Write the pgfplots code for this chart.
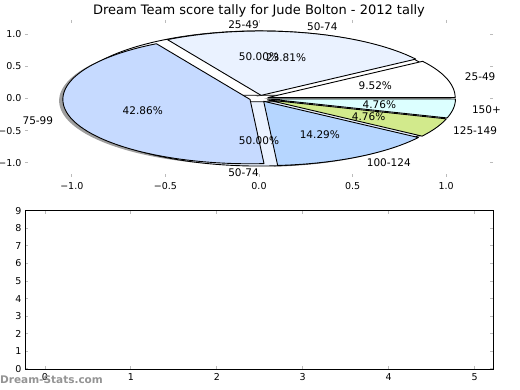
\documentclass[border=0pt]{standalone}
\usepackage{fontspec}
\setmainfont{DejaVu Sans}
\usepackage{pgfplots}
\pgfplotsset{compat=1.18}

\definecolor{cA}{HTML}{FFFFFF}   % 25-49
\definecolor{cB}{HTML}{EAF2FF}   % 50-74
\definecolor{cC}{HTML}{C6DAFF}   % 75-99
\definecolor{cD}{HTML}{B6D6FF}   % 100-124
\definecolor{cE}{HTML}{D2EA8C}   % 125-149
\definecolor{cF}{HTML}{DCFFFF}   % 150+
\definecolor{tickgray}{HTML}{BBBBBB}

% pie data: label/count/colour   (counts out of the total)
\def\pieonetotal{2}
\def\pieone{25-49/1/cA, 50-74/1/cB}
\def\pietwototal{21}
\def\pietwo{25-49/2/cA, 50-74/5/cB, 75-99/9/cC, 100-124/3/cD, 125-149/1/cE, 150+/1/cF}
\def\explode{0.05}

% mode: 0 = wedges, 1 = shadows, 2 = labels
\newcommand\drawpie[3]{%
  \xdef\cum{0}%
  \foreach \lab/\cnt/\col in #2 {%
    \pgfmathsetmacro\sa{360*\cum/#1}%
    \pgfmathsetmacro\sb{360*(\cum+\cnt)/#1}%
    \pgfmathsetmacro\sm{(\sa+\sb)/2}%
    \pgfmathsetmacro\dx{\explode*cos(\sm)}%
    \pgfmathsetmacro\dy{\explode*sin(\sm)}%
    \ifcase#3
      \edef\tmp{\noexpand\addplot[fill=\col, draw=black, line width=0.9pt, line join=round, domain=\sa:\sb, samples=90] ({\dx+cos(x)},{\dy+sin(x)}) -- (axis cs:\dx,\dy) -- cycle;}%
    \or
      \pgfmathsetmacro\sx{\dx-0.02}%
      \pgfmathsetmacro\sy{\dy-0.02}%
      \edef\tmp{\noexpand\addplot[fill=black!38, draw=none, domain=\sa:\sb, samples=90] ({\sx+cos(x)},{\sy+sin(x)}) -- (axis cs:\sx,\sy) -- cycle;}%
    \or
      \pgfmathsetmacro\lx{\dx+1.1*cos(\sm)}%
      \pgfmathsetmacro\ly{\dy+1.1*sin(\sm)}%
      \pgfmathsetmacro\px{\dx+0.6*cos(\sm)}%
      \pgfmathsetmacro\py{\dy+0.6*sin(\sm)}%
      \pgfmathsetmacro\pct{100*\cnt/#1}%
      \pgfmathparse{\lx>0 ? "west" : "east"}\let\anc\pgfmathresult
      \edef\tmp{\noexpand\node[anchor=\anc, inner sep=0pt] at (axis cs:\lx,\ly) {\lab};
        \noexpand\node[inner sep=0pt] at (axis cs:\px,\py) {\noexpand\pgfmathprintnumber[fixed,precision=2,fixed zerofill,assume math mode=true]{\pct}\noexpand\%};}%
    \fi
    \tmp
    \pgfmathsetmacro\newcum{\cum+\cnt}%
    \xdef\cum{\newcum}%
  }%
}

\begin{document}
\begin{tikzpicture}[font=\fontsize{10.5}{12}\selectfont]
\path[use as bounding box] (0,0) rectangle (520pt,390pt);

\begin{axis}[
  at={(25pt,213pt)}, anchor=south west,
  scale only axis, width=468pt, height=157pt,
  xmin=-1.25, xmax=1.25, ymin=-1.22, ymax=1.22,
  axis line style={draw=none},
  xtick={-1,-0.5,0,0.5,1}, ytick={-1,-0.5,0,0.5,1},
  xticklabels={−1.0,−0.5,0.0,0.5,1.0},
  yticklabels={−1.0,−0.5,0.0,0.5,1.0},
  tick align=inside, major tick length=3pt,
  tick style={tickgray, line width=1pt},
  tick label style={font=\fontsize{9.5}{11}\selectfont},
  xticklabel style={yshift=-2pt},
  clip=false,
]
\drawpie{\pietwototal}{\pietwo}{1}
\drawpie{\pieonetotal}{\pieone}{0}
\drawpie{\pietwototal}{\pietwo}{0}
\drawpie{\pieonetotal}{\pieone}{2}
\drawpie{\pietwototal}{\pietwo}{2}
\end{axis}

\begin{axis}[
  at={(25pt,21pt)}, anchor=south west,
  scale only axis, width=468pt, height=158.3pt,
  xmin=-0.233, xmax=5.215, ymin=0, ymax=9,
  xtick={0,1,2,3,4,5}, ytick={0,1,2,3,4,5,6,7,8,9},
  axis line style={black, line width=0.9pt},
  tick align=inside, major tick length=3pt,
  tick style={tickgray, line width=1pt},
  tick label style={font=\fontsize{9.5}{11}\selectfont},
  xticklabel style={yshift=-1pt},
  /pgf/number format/assume math mode=true,
]
\end{axis}

\node at (259pt,379pt) {\fontsize{13}{15}\selectfont Dream Team score tally for Jude Bolton - 2012 tally};
\node[anchor=west, inner sep=0pt, text=black!42] at (0pt,10pt) {\fontsize{10.5}{12}\selectfont\bfseries Dream-Stats.com};
\end{tikzpicture}
\end{document}
